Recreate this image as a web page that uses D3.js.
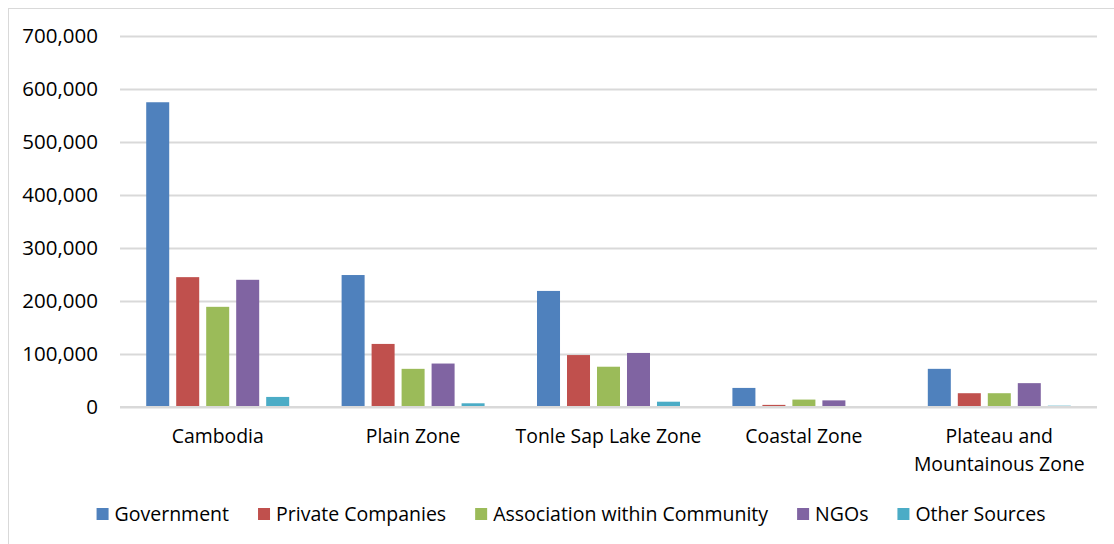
<!DOCTYPE html>
<html>
<head>
<meta charset="utf-8">
<script src="https://cdn.jsdelivr.net/npm/d3@7"></script>
<style>
    html, body { margin: 0; padding: 0; background: #fff; }
    svg { display: block; font-family: "Open Sans", "Noto Sans", sans-serif; }
</style>
</head>
<body>
<svg id="chart" width="1114" height="544"></svg>
<script>
const categories = ["Cambodia", "Plain Zone", "Tonle Sap Lake Zone", "Coastal Zone", "Plateau and Mountainous Zone"];
const seriesNames = ["Government", "Private Companies", "Association within Community", "NGOs", "Other Sources"];
const colors = ["#4F81BD", "#C0504D", "#9BBB59", "#8064A2", "#4BACC6"];

const government = [575000, 249000, 219000, 36000, 72000];
const privateCompanies = [245000, 119000, 98000, 4000, 26000];
const association = [189000, 72000, 76000, 14000, 26000];
const ngos = [240000, 82000, 102000, 12500, 45000];
const otherSources = [19000, 7000, 10000, 1000, 2500];

const yTicks = [0, 100000, 200000, 300000, 400000, 500000, 600000, 700000];

const seriesValues = [government, privateCompanies, association, ngos, otherSources];

const svg = d3.select("#chart");
const width = +svg.attr("width");
const height = +svg.attr("height");
const margin = { top: 36, right: 17, bottom: 137, left: 120 };
const innerWidth = width - margin.left - margin.right;
const innerHeight = height - margin.top - margin.bottom;

// outer chart frame (runs off the right and bottom edge like the source)
svg.append("rect")
    .attr("x", 8.5)
    .attr("y", 8.5)
    .attr("width", width)
    .attr("height", height)
    .attr("fill", "none")
    .attr("stroke", "#d9d9d9");

const g = svg.append("g").attr("transform", `translate(${margin.left},${margin.top})`);

const x0 = d3.scaleBand()
    .domain(categories)
    .range([0, innerWidth])
    .padding(0);

const groupWidth = 150;
const x1 = d3.scaleBand()
    .domain(seriesNames)
    .range([(x0.bandwidth() - groupWidth) / 2, (x0.bandwidth() + groupWidth) / 2])
    .paddingInner(0.233)
    .paddingOuter(0.117);

const y = d3.scaleLinear()
    .domain([0, 700000])
    .range([innerHeight, 0]);

g.append("g")
    .attr("class", "y-axis")
    .call(d3.axisLeft(y).tickValues(yTicks).tickFormat(d3.format(",")).tickSize(-innerWidth).tickPadding(22))
    .call(a => a.select(".domain").remove())
    .call(a => a.selectAll("line").attr("stroke", "#d9d9d9").attr("stroke-width", 2))
    .call(a => a.selectAll("text")
        .attr("fill", "#000")
        .attr("font-size", "20.5px")
        .attr("font-family", "'Open Sans', sans-serif"));

const rows = categories.map((c, i) => ({
    category: c,
    values: seriesNames.map((s, j) => ({ key: s, value: seriesValues[j][i], color: colors[j] }))
}));

g.append("g")
    .selectAll("g")
    .data(rows)
    .join("g")
    .attr("transform", d => `translate(${x0(d.category)},0)`)
    .selectAll("rect")
    .data(d => d.values)
    .join("rect")
    .attr("x", d => x1(d.key))
    .attr("y", d => y(d.value))
    .attr("width", x1.bandwidth())
    .attr("height", d => y(0) - y(d.value))
    .attr("fill", d => d.color);

// redraw zero line on top of bars
g.append("line")
    .attr("x1", 0)
    .attr("x2", innerWidth)
    .attr("y1", y(0))
    .attr("y2", y(0))
    .attr("stroke", "#d9d9d9")
    .attr("stroke-width", 2);

// category labels
g.append("g")
    .attr("transform", `translate(0,${innerHeight})`)
    .call(d3.axisBottom(x0).tickSize(0).tickPadding(0))
    .call(a => a.select(".domain").remove())
    .call(a => a.selectAll("text")
        .attr("y", 36)
        .attr("dy", 0)
        .attr("fill", "#000")
        .attr("font-size", "19.4px")
        .attr("font-family", "'Open Sans', sans-serif")
        .call(wrap, x0.bandwidth() - 4));

function wrap(text, w) {
    text.each(function () {
        const t = d3.select(this);
        const words = t.text().split(/\s+/);
        const yPos = t.attr("y");
        t.text(null);
        let line = [];
        let lineNo = 0;
        let tspan = t.append("tspan").attr("x", 0).attr("y", yPos);
        for (const word of words) {
            line.push(word);
            tspan.text(line.join(" "));
            if (tspan.node().getComputedTextLength() > w && line.length > 1) {
                line.pop();
                tspan.text(line.join(" "));
                line = [word];
                lineNo++;
                tspan = t.append("tspan").attr("x", 0).attr("y", +yPos + lineNo * 28).text(word);
            }
        }
    });
}

// legend
const legend = svg.append("g").attr("class", "legend");
const items = legend.selectAll("g")
    .data(seriesNames)
    .join("g");

items.append("rect")
    .attr("width", 12)
    .attr("height", 12)
    .attr("y", 508)
    .attr("fill", (d, i) => colors[i]);

items.append("text")
    .attr("x", 18)
    .attr("y", 521)
    .attr("font-size", "19.5px")
    .attr("fill", "#000")
    .text(d => d);

let offset = 0;
const widths = [];
items.each(function () {
    const tw = d3.select(this).select("text").node().getComputedTextLength();
    widths.push(offset);
    offset += 18 + tw + 29;
});
const total = offset - 29;
const startX = 571 - total / 2;
items.attr("transform", (d, i) => `translate(${startX + widths[i]},0)`);
</script>
</body>
</html>
